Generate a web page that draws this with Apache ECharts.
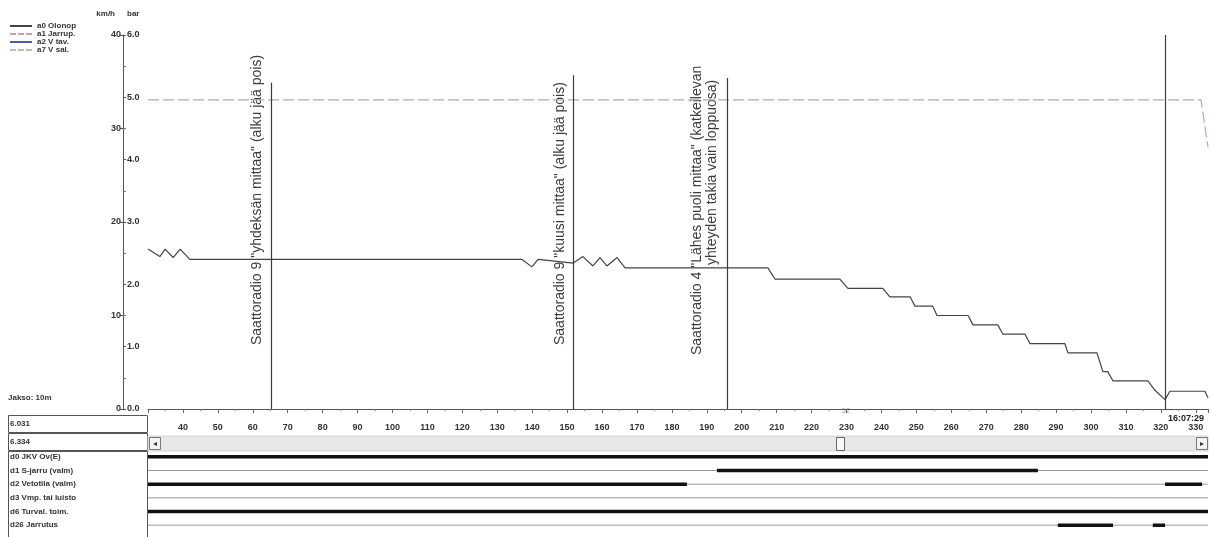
<!DOCTYPE html>
<html><head><meta charset="utf-8">
<script src="https://cdn.jsdelivr.net/npm/echarts@6.0.0/dist/echarts.min.js"></script>
<style>html,body{margin:0;padding:0;background:#fff}#c{width:1211px;height:537px}</style>
</head><body><div id="c"></div>
<script>
// a0: speed (km/h) against distance (m)
const speedDist = [30, 33.4, 34.9, 37.2, 39.2, 42.0, 137.1, 139.9, 141.7, 151.7,
  154.5, 157.4, 159.4, 161.4, 164.3, 166.6, 207.5, 209.5, 228.1, 230.4, 240.4, 242.4,
  248.2, 249.6, 254.7, 255.9, 264.8, 266.2, 273.3, 274.8, 281.1, 282.5, 292.5, 293.4,
  301.7, 303.4, 304.8, 306.3, 316.3, 318.3, 321.2, 322.6, 332.6, 333.5];
const speedKmh = [17.1, 16.3, 17.1, 16.2, 17.1, 16.0, 16.0, 15.2, 16.0, 15.6,
  16.3, 15.3, 16.2, 15.3, 16.2, 15.1, 15.1, 13.9, 13.9, 12.9, 12.9, 12.0,
  12.0, 11.0, 11.0, 10.0, 10.0, 9.0, 9.0, 8.0, 8.0, 7.0, 7.0, 6.0,
  6.0, 4.0, 4.0, 3.0, 3.0, 2.0, 1.0, 1.9, 1.9, 1.2];

// a1: brake pipe pressure (bar)
const brakeDist = [30, 331.5, 333.5];
const brakeBar = [4.96, 4.96, 4.2];

// radio events: distance, top of marker (km/h scale), annotation lines
const eventDist = [65.2, 151.7, 195.8, 321.4];
const eventTopKmh = [34.9, 35.7, 35.4, 40];
const eventLabels = [
  ['Saattoradio 9 "yhdeksän mittaa" (alku jää pois)'],
  ['Saattoradio 9 "kuusi mittaa" (alku jää pois)'],
  ['Saattoradio 4 "Lähes puoli mittaa" (katkeilevan', 'yhteyden takia vain loppuosa)'],
  []
];

// digital channels and the distance ranges where each is active
const signalNames = ['d0 JKV Ov(E)', 'd1 S-jarru (valm)', 'd2 Vetotila (valm)',
  'd3 Vmp. tai luisto', 'd6 Turval. toim.', 'd26 Jarrutus'];
const signalOn = [
  [[30, 333.5]],
  [[192.9, 284.8]],
  [[30, 184.3], [321.2, 331.8]],
  [],
  [[30, 333.5]],
  [[290.5, 306.3], [317.7, 321.2]]
];

const legendNames = ['a0 Olonop', 'a1 Jarrup.', 'a2 V tav.', 'a7 V sal.'];
const cursorValues = ['6.031', '6.334'];
const clockText = '16:07:29';
const periodText = 'Jakso: 10m';

const FONT = '"Liberation Sans", Arial, sans-serif';
const xMin = 30, xMax = 333.5;

const SOLID_ICON = 'path://M0,0h22v2h-22z';
const DASH_ICON = 'path://M0,0h6v2h-6zM8,0h6v2h-6zM16,0h6v2h-6z';

const chart = echarts.init(document.getElementById('c'), null, { renderer: 'canvas' });

const series = [
  {
    name: legendNames[0], type: 'line', xAxisIndex: 0, yAxisIndex: 0,
    data: speedDist.map((d, i) => [d, speedKmh[i]]),
    symbol: 'none', lineStyle: { color: '#444', width: 1.2 }, itemStyle: { color: '#444' },
    animation: false, clip: false,
    markLine: {
      silent: true, symbol: ['none', 'none'], animation: false,
      label: { show: false },
      lineStyle: { color: '#3a3a3a', width: 1.2, type: 'solid' },
      data: eventDist.map((d, i) => [{ coord: [d, 0] }, { coord: [d, eventTopKmh[i]] }])
    }
  },
  {
    name: legendNames[1], type: 'line', xAxisIndex: 0, yAxisIndex: 1,
    data: brakeDist.map((d, i) => [d, brakeBar[i]]),
    symbol: 'none', lineStyle: { color: '#c4a2ad', width: 1.2, type: [11, 4] },
    itemStyle: { color: '#c4a2ad' }, animation: false
  },
  {
    name: legendNames[2], type: 'line', xAxisIndex: 0, yAxisIndex: 0, data: [],
    symbol: 'none', lineStyle: { color: '#5a55a8', width: 1.5 }, itemStyle: { color: '#5a55a8' }
  },
  {
    name: legendNames[3], type: 'line', xAxisIndex: 0, yAxisIndex: 0, data: [],
    symbol: 'none', lineStyle: { color: '#b5c2a8', width: 1.2, type: [6, 3] }, itemStyle: { color: '#b5c2a8' }
  }
];

// digital channel traces: thin baseline plus thick active ranges
signalNames.forEach((n, r) => {
  series.push({
    type: 'line', xAxisIndex: 1, yAxisIndex: 2, symbol: 'none', silent: true, animation: false,
    data: [[xMin, r], [xMax, r]], lineStyle: { color: '#9a9a9a', width: 1 }
  });
  signalOn[r].forEach(seg => {
    series.push({
      type: 'line', xAxisIndex: 1, yAxisIndex: 2, symbol: 'none', silent: true, animation: false,
      data: [[seg[0], r], [seg[1], r]], lineStyle: { color: '#111', width: 3.5, cap: 'butt' }
    });
  });
});

const tickFont = { fontFamily: FONT, fontSize: 9, fontWeight: 'bold', color: '#333' };

chart.setOption({
  animation: false,
  backgroundColor: '#fff',
  textStyle: { fontFamily: FONT },
  legend: {
    data: [
      { name: legendNames[0], icon: SOLID_ICON },
      { name: legendNames[1], icon: DASH_ICON },
      { name: legendNames[2], icon: SOLID_ICON },
      { name: legendNames[3], icon: DASH_ICON }
    ],
    orient: 'vertical', left: 5, top: 17,
    itemWidth: 22, itemHeight: 2, itemGap: 0,
    textStyle: { fontFamily: FONT, fontSize: 8, fontWeight: 'bold', color: '#333', lineHeight: 8 },
    selectedMode: false
  },
  grid: [
    { left: 148, right: 3, top: 35, height: 374 },
    { left: 148, right: 3, top: 450, height: 82 }
  ],
  xAxis: [
    {
      type: 'value', gridIndex: 0, min: xMin, max: xMax, interval: 10,
      axisLine: { show: true, lineStyle: { color: '#555', width: 1 } },
      axisTick: { show: true, length: 4, lineStyle: { color: '#666' } },
      minorTick: { show: true, splitNumber: 2, length: 2, lineStyle: { color: '#888' } },
      splitLine: { show: false },
      axisLabel: Object.assign({ margin: 14, showMinLabel: false, showMaxLabel: false,
        formatter: v => (v >= 40 && v % 10 === 0) ? String(v) : '' }, tickFont)
    },
    { type: 'value', gridIndex: 1, min: xMin, max: xMax, show: false }
  ],
  yAxis: [
    {
      type: 'value', gridIndex: 0, min: 0, max: 40, interval: 10, position: 'left', offset: 25,
      name: 'km/h', nameLocation: 'end', nameGap: 17,
      nameTextStyle: { fontFamily: FONT, fontSize: 8, fontWeight: 'bold', color: '#333', align: 'right', padding: [0, 8, 0, 0] },
      axisLine: { show: true, lineStyle: { color: '#555', width: 1 } },
      axisTick: { show: true, length: 3, lineStyle: { color: '#555' } },
      splitLine: { show: false },
      axisLabel: Object.assign({ margin: 2 }, tickFont)
    },
    {
      type: 'value', gridIndex: 0, min: 0, max: 6, interval: 1, position: 'left', offset: 25,
      name: 'bar', nameLocation: 'end', nameGap: 17,
      nameTextStyle: { fontFamily: FONT, fontSize: 8, fontWeight: 'bold', color: '#333', align: 'left', padding: [0, 0, 0, 4] },
      axisLine: { show: false },
      axisTick: { show: true, inside: true, length: 3, lineStyle: { color: '#555' } },
      minorTick: { show: true, splitNumber: 2, length: 3, lineStyle: { color: '#777' } },
      splitLine: { show: false },
      axisLabel: Object.assign({ inside: true, margin: 4, formatter: v => v.toFixed(1) }, tickFont)
    },
    {
      type: 'category', gridIndex: 1, data: signalNames, inverse: true,
      axisLine: { show: false }, axisTick: { show: false }, splitLine: { show: false },
      axisLabel: { align: 'left', margin: 138, fontFamily: FONT, fontSize: 8, fontWeight: 'bold', color: '#333' }
    }
  ],
  series: series
});

// annotations, channel boxes and scrollbar
const labelLayout = [
  [{ gap: 7, lift: 64 }],
  [{ gap: 6, lift: 64 }],
  [{ gap: 23, lift: 54 }, { gap: 8, lift: 144 }],
  []
];
const g = [];
eventDist.forEach((d, i) => {
  const px = chart.convertToPixel({ xAxisIndex: 0, yAxisIndex: 0 }, [d, 0]);
  eventLabels[i].forEach((t, j) => {
    const L = labelLayout[i][j];
    g.push({
      type: 'text', x: px[0] - L.gap, y: px[1] - L.lift, rotation: Math.PI / 2, silent: true,
      style: { text: t, fontFamily: FONT, fontSize: 14, fill: '#3c3c3c', align: 'left', verticalAlign: 'bottom' }
    });
  });
});
const boxStroke = { fill: 'none', stroke: '#555', lineWidth: 1 };
g.push({ type: 'rect', shape: { x: 8.5, y: 415.5, width: 139, height: 17 }, style: boxStroke, silent: true });
g.push({ type: 'rect', shape: { x: 8.5, y: 433.5, width: 139, height: 17 }, style: boxStroke, silent: true });
g.push({ type: 'rect', shape: { x: 8.5, y: 451.5, width: 139, height: 90 }, style: boxStroke, silent: true });
cursorValues.forEach((v, i) => g.push({
  type: 'text', x: 10, y: 424 + i * 18, silent: true,
  style: { text: v, fontFamily: FONT, fontSize: 8, fontWeight: 'bold', fill: '#333', verticalAlign: 'middle' }
}));
g.push({ type: 'text', x: 8, y: 398, silent: true,
  style: { text: periodText, fontFamily: FONT, fontSize: 8, fontWeight: 'bold', fill: '#333', verticalAlign: 'middle' } });
// scrollbar under the distance axis
g.push({ type: 'rect', shape: { x: 148, y: 436, width: 1060, height: 15 }, style: { fill: '#e7e7e7', stroke: '#d6d6d6' }, silent: true });
g.push({ type: 'rect', shape: { x: 149.5, y: 437.5, width: 11, height: 12 }, style: { fill: '#f4f4f4', stroke: '#777' }, silent: true });
g.push({ type: 'rect', shape: { x: 1196.5, y: 437.5, width: 11, height: 12 }, style: { fill: '#f4f4f4', stroke: '#777' }, silent: true });
g.push({ type: 'text', x: 155, y: 444, silent: true, style: { text: '◂', fontSize: 8, fill: '#333', align: 'center', verticalAlign: 'middle' } });
g.push({ type: 'text', x: 1202, y: 444, silent: true, style: { text: '▸', fontSize: 8, fill: '#333', align: 'center', verticalAlign: 'middle' } });
g.push({ type: 'rect', shape: { x: 836.5, y: 437.5, width: 8, height: 13 }, style: { fill: '#f8f8f8', stroke: '#666' }, silent: true });
// cursor time stamp
g.push({ type: 'text', x: 1168, y: 419, silent: true,
  style: { text: clockText, fontFamily: FONT, fontSize: 9, fontWeight: 'bold', fill: '#222', verticalAlign: 'middle' } });
g.push({ type: 'text', x: 842, y: 411, silent: true,
  style: { text: '52', fontFamily: FONT, fontSize: 7, fill: '#999', verticalAlign: 'middle' } });
chart.setOption({ graphic: g });
</script></body></html>
